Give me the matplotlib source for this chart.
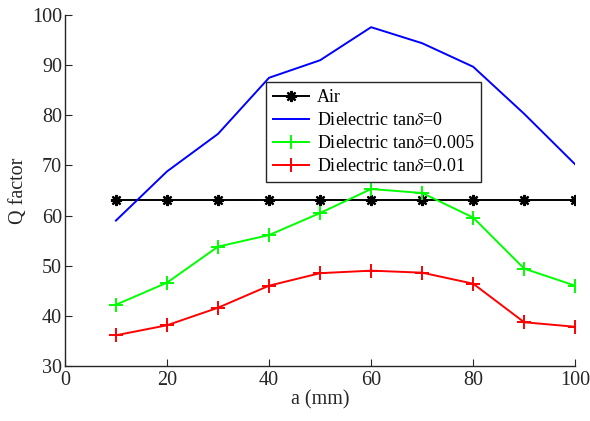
import numpy as np
import matplotlib.pyplot as plt

plt.rcParams['font.family'] = ['Liberation Serif', 'DejaVu Serif']
plt.rcParams['mathtext.fontset'] = 'stix'

a_mm = [10, 20, 30, 40, 50, 60, 70, 80, 90, 100]
q_air = [63.2, 63.2, 63.2, 63.2, 63.2, 63.2, 63.2, 63.2, 63.2, 63.2]
q_tan0 = [59.0, 68.8, 76.3, 87.5, 91.0, 97.6, 94.4, 89.7, 80.3, 70.2]
q_tan005 = [42.2, 46.6, 53.8, 56.1, 60.5, 65.3, 64.5, 59.6, 49.4, 46.0]
q_tan01 = [36.1, 38.1, 41.6, 46.0, 48.5, 49.0, 48.6, 46.4, 38.7, 37.8]

labels = ['Air', r'Dielectric tan$\delta$=0', r'Dielectric tan$\delta$=0.005',
          r'Dielectric tan$\delta$=0.01']

fig = plt.figure(figsize=(5.9, 4.21), dpi=100)
ax = fig.add_axes([0.110, 0.131, 0.865, 0.833])

ax.plot(a_mm, q_air, color='black', marker=(8, 2, 0), markersize=8, mew=1.6, lw=1.4, label=labels[0])
ax.plot(a_mm, q_tan0, color='blue', lw=1.4, label=labels[1])
ax.plot(a_mm, q_tan005, color='#00ff00', marker='+', markersize=10, mew=1.4, lw=1.4, label=labels[2])
ax.plot(a_mm, q_tan01, color='red', marker='+', markersize=10, mew=1.4, lw=1.4, label=labels[3])

ax.set_xlim(0, 100)
ax.set_ylim(30, 100)
ax.set_xticks(np.arange(0, 101, 20))
ax.set_yticks(np.arange(30, 101, 10))
ax.tick_params(direction='in', labelsize=14.5, length=5, color='#262626',
               labelcolor='#262626')
ax.tick_params(axis='x', pad=4)
ax.tick_params(axis='y', pad=2)
ax.spines['top'].set_visible(False)
ax.spines['right'].set_visible(False)
for s in ['left', 'bottom']:
    ax.spines[s].set_color('#262626')
    ax.spines[s].set_linewidth(1.0)

ax.set_xlabel('a (mm)', fontsize=14.5, labelpad=0, color='#262626')
ax.set_ylabel('Q factor', fontsize=14.5, labelpad=3, color='#262626')

leg = ax.legend(loc='upper left', bbox_to_anchor=(0.394, 0.81), fontsize=13,
                fancybox=False, edgecolor='#262626', framealpha=1,
                handlelength=2.0, handletextpad=0.4, labelspacing=0.33,
                borderpad=0.4, borderaxespad=0)
leg.get_frame().set_linewidth(1.0)

fig.savefig('out.png', dpi=100)
